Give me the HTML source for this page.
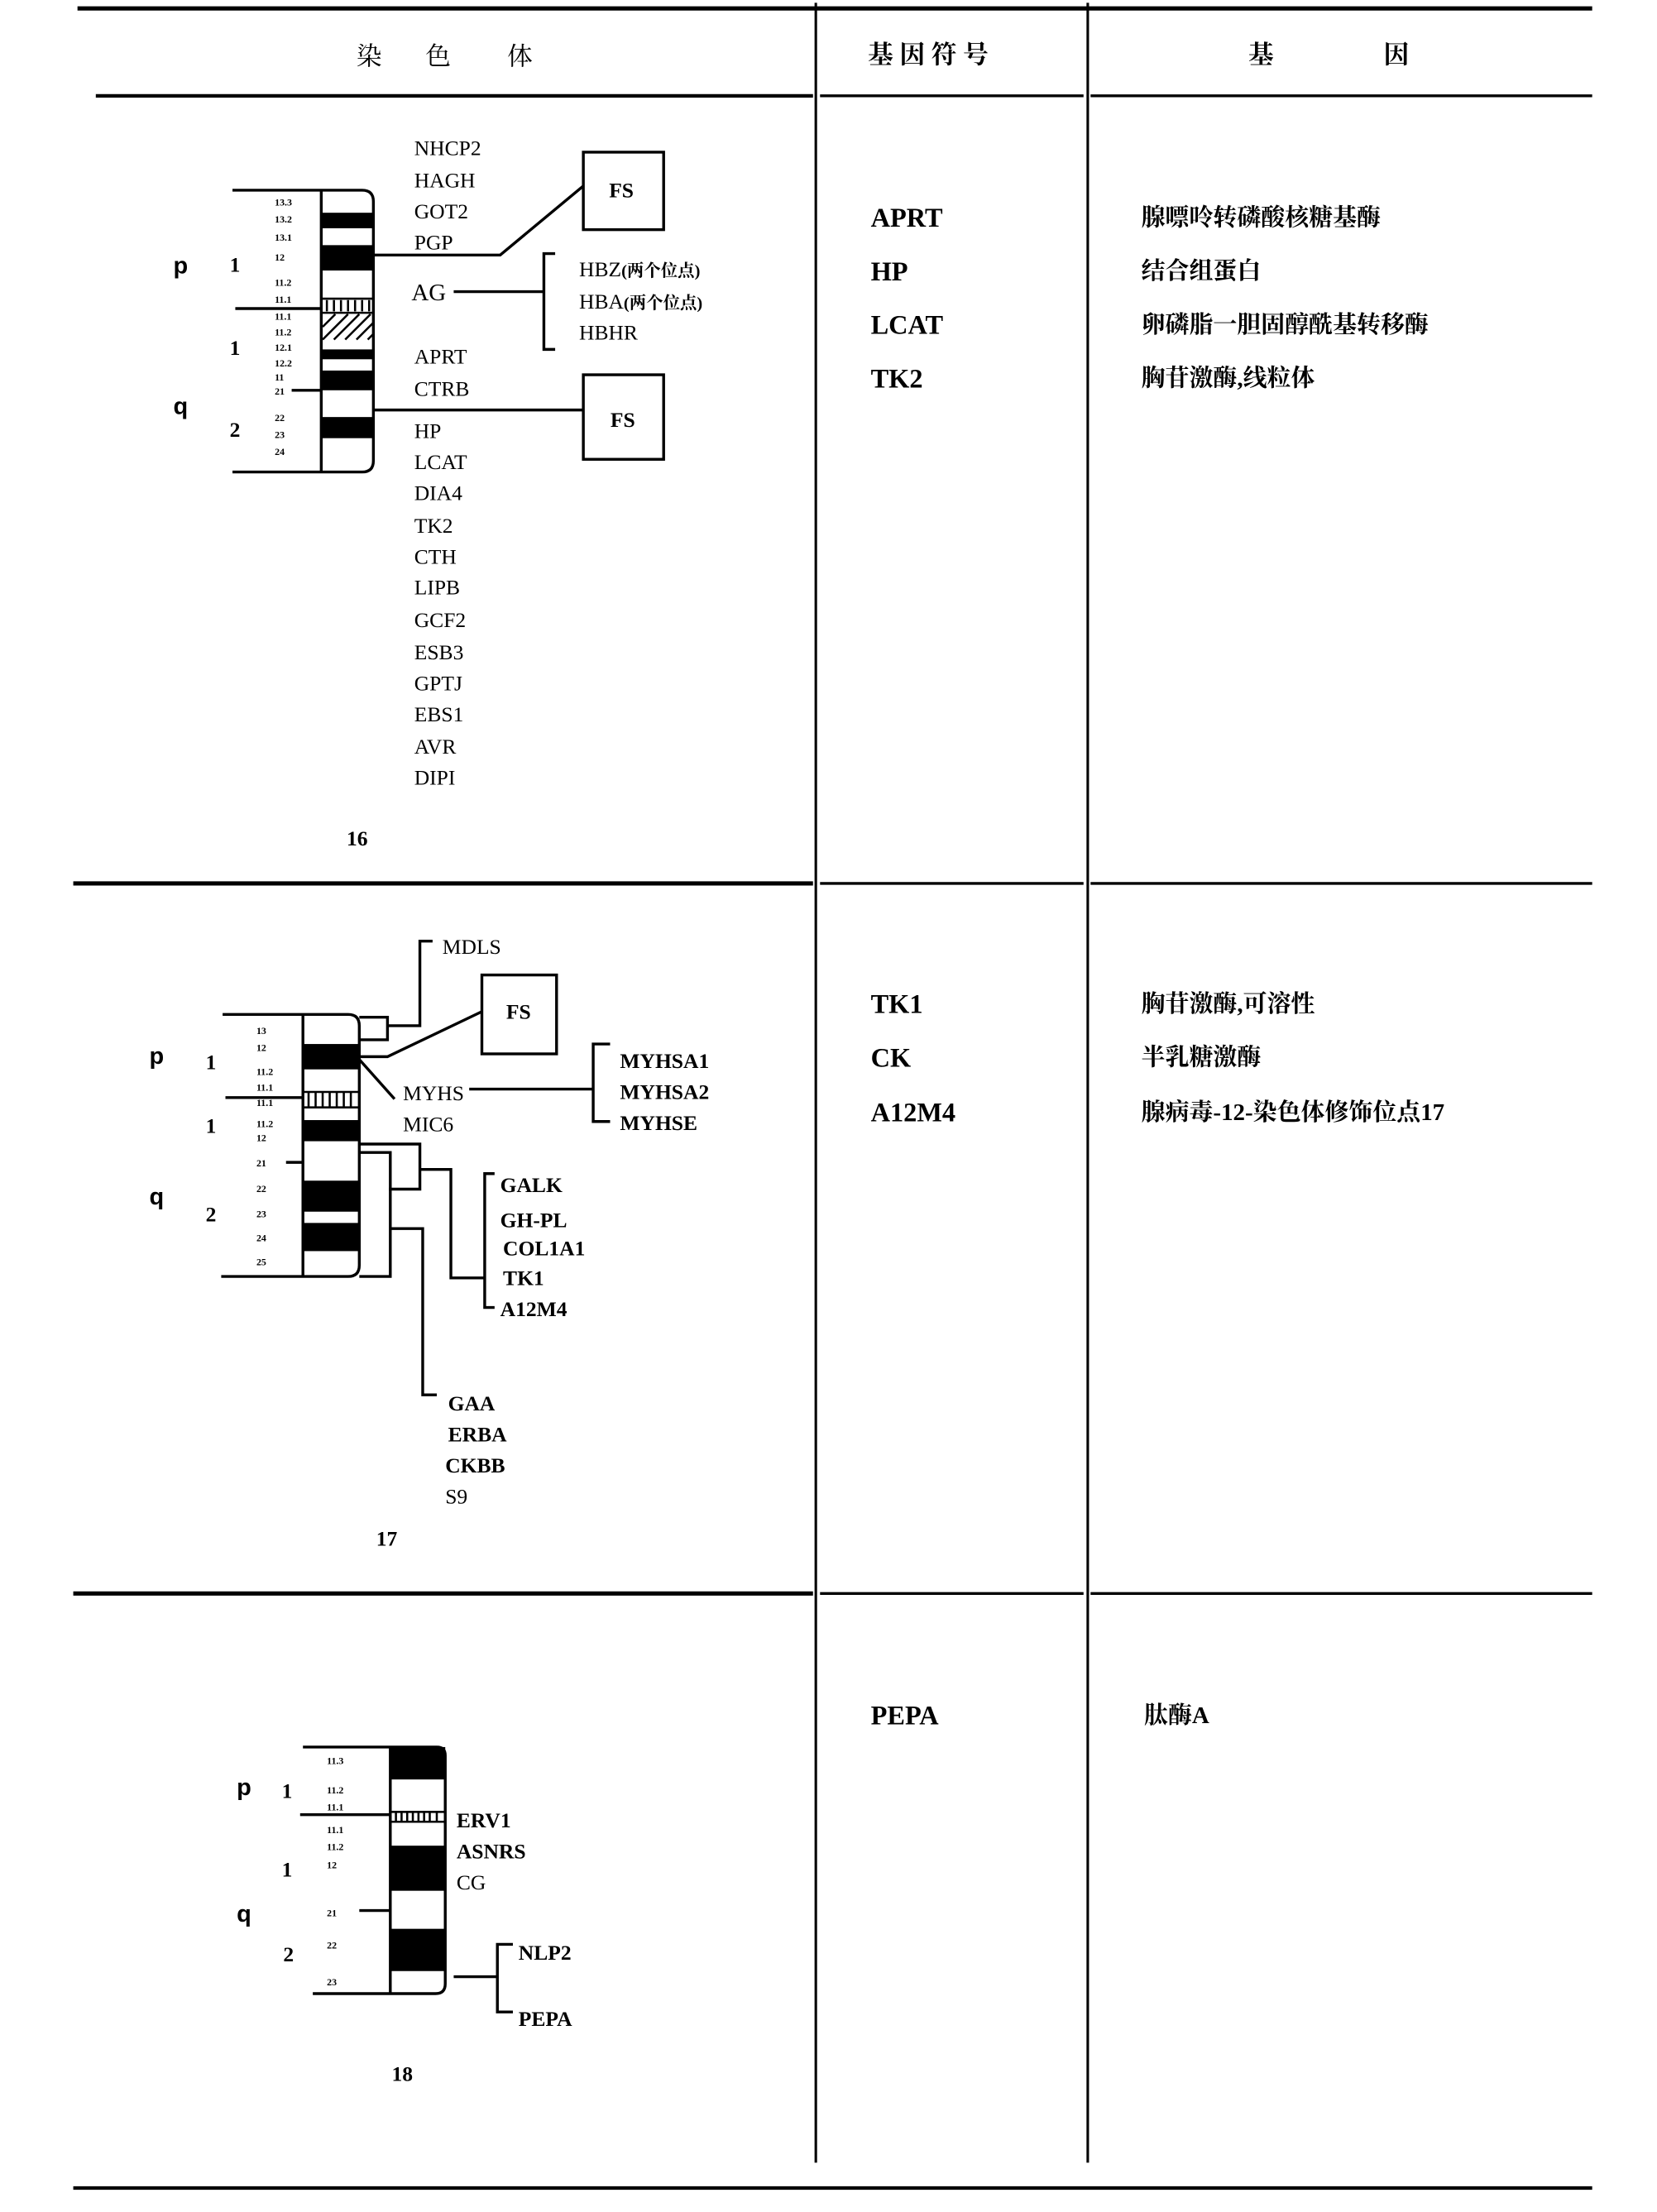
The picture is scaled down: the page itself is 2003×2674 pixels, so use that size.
<!DOCTYPE html>
<html><head><meta charset="utf-8"><style>
html,body{margin:0;padding:0;background:#fff;}
svg{display:block;}
text{font-family:"Liberation Serif","Noto Serif CJK SC",serif;fill:#000;}
.g{font-size:15px;}
.gb{font-size:15px;font-weight:bold;}
.b{font-size:7px;font-weight:bold;}
.c2{font-size:19px;font-weight:bold;}
.c3{font-size:17px;font-family:"Liberation Serif","Noto Serif CJK SC",serif;font-weight:bold;}
.pq{font-size:17px;font-weight:bold;font-family:"Liberation Sans",sans-serif;}
.n{font-size:15px;font-weight:bold;}
</style></head><body>
<svg width="2003" height="2674" viewBox="0 0 1176 1570" preserveAspectRatio="none" xmlns="http://www.w3.org/2000/svg">
<g stroke="#000" fill="none">
<line x1="55" y1="6" x2="1130" y2="6" stroke-width="3"/>
<line x1="68" y1="68" x2="577" y2="68" stroke-width="2.5"/>
<line x1="582" y1="68" x2="769" y2="68" stroke-width="2"/>
<line x1="774" y1="68" x2="1130" y2="68" stroke-width="2"/>
<line x1="579" y1="2" x2="579" y2="1535" stroke-width="1.8"/>
<line x1="772" y1="2" x2="772" y2="1535" stroke-width="1.8"/>
<line x1="52" y1="627" x2="577" y2="627" stroke-width="3"/>
<line x1="582" y1="627" x2="769" y2="627" stroke-width="2"/>
<line x1="774" y1="627" x2="1130" y2="627" stroke-width="2"/>
<line x1="52" y1="1131" x2="577" y2="1131" stroke-width="3"/>
<line x1="582" y1="1131" x2="769" y2="1131" stroke-width="2"/>
<line x1="774" y1="1131" x2="1130" y2="1131" stroke-width="2"/>
<line x1="52" y1="1553" x2="1130" y2="1553" stroke-width="2.5"/>
</g>
<text x="253" y="46" font-size="18">染</text><text x="302" y="46" font-size="18">色</text><text x="360" y="46" font-size="18">体</text>
<text x="616" y="45" font-size="18" font-weight="bold">基 因 符 号</text>
<text x="886" y="45" font-size="18" font-weight="bold">基</text><text x="982" y="45" font-size="18" font-weight="bold">因</text>

<!-- Chromosome 16 -->
<g fill="#000">
<rect x="228" y="151" width="37" height="11"/><rect x="228" y="174" width="37" height="18"/>
<rect x="228" y="248" width="37" height="7"/><rect x="228" y="263" width="37" height="14"/>
<rect x="228" y="296" width="37" height="15"/>
</g>
<g stroke="#000" stroke-width="1.5">
<line x1="232" y1="213" x2="232" y2="221"/><line x1="237" y1="213" x2="237" y2="221"/><line x1="242" y1="213" x2="242" y2="221"/><line x1="247" y1="213" x2="247" y2="221"/><line x1="252" y1="213" x2="252" y2="221"/><line x1="257" y1="213" x2="257" y2="221"/><line x1="262" y1="213" x2="262" y2="221"/>
<line x1="228" y1="212" x2="265" y2="212"/><line x1="228" y1="222" x2="265" y2="222"/>
<line x1="229" y1="232" x2="238" y2="223"/><line x1="229" y1="241" x2="247" y2="223"/><line x1="237" y1="241" x2="255" y2="223"/><line x1="245" y1="241" x2="263" y2="223"/><line x1="253" y1="241" x2="265" y2="229"/><line x1="261" y1="241" x2="265" y2="237"/>
</g>
<path d="M165 135 H257 Q265 135 265 143 V327 Q265 335 257 335 H165 M228 135 V335" stroke="#000" stroke-width="2" fill="none"/>
<g stroke="#000" stroke-width="2" fill="none">
<line x1="167" y1="219" x2="228" y2="219"/><line x1="207" y1="277" x2="228" y2="277"/>
<polyline points="265,181 355,181 414,132"/>
<line x1="265" y1="291" x2="414" y2="291"/>
<rect x="414" y="108" width="57" height="55"/>
<rect x="414" y="266" width="57" height="60"/>
<line x1="322" y1="207" x2="386" y2="207"/>
<polyline points="394,180 386,180 386,248 394,248"/>
</g>
<text x="441" y="140" class="gb" text-anchor="middle">FS</text>
<text x="442" y="303" class="gb" text-anchor="middle">FS</text>
<text x="123" y="194" class="pq">p</text><text x="163" y="193" class="n">1</text><text x="163" y="252" class="n">1</text>
<text x="123" y="294" class="pq">q</text><text x="163" y="310" class="n">2</text>
<g class="b">
<text x="195" y="146">13.3</text><text x="195" y="158">13.2</text><text x="195" y="171">13.1</text><text x="195" y="185">12</text>
<text x="195" y="203">11.2</text><text x="195" y="215">11.1</text><text x="195" y="227">11.1</text><text x="195" y="238">11.2</text>
<text x="195" y="249">12.1</text><text x="195" y="260">12.2</text><text x="195" y="270">11</text><text x="195" y="280">21</text>
<text x="195" y="299">22</text><text x="195" y="311">23</text><text x="195" y="323">24</text>
</g>
<g class="g">
<text x="294" y="110">NHCP2</text><text x="294" y="133">HAGH</text><text x="294" y="155">GOT2</text><text x="294" y="177">PGP</text>
<text x="292" y="213" font-size="17">AG</text>
<text x="294" y="258">APRT</text><text x="294" y="281">CTRB</text><text x="294" y="311">HP</text><text x="294" y="333">LCAT</text>
<text x="294" y="355">DIA4</text><text x="294" y="378">TK2</text><text x="294" y="400">CTH</text><text x="294" y="422">LIPB</text>
<text x="294" y="445">GCF2</text><text x="294" y="468">ESB3</text><text x="294" y="490">GPTJ</text><text x="294" y="512">EBS1</text>
<text x="294" y="535">AVR</text><text x="294" y="557">DIPI</text>
</g>
<text x="411" y="196" class="g">HBZ<tspan font-size="12" font-weight="bold">(两个位点)</tspan></text>
<text x="411" y="219" class="g">HBA<tspan font-size="12" font-weight="bold">(两个位点)</tspan></text>
<text x="411" y="241" class="g">HBHR</text>
<text x="246" y="600" class="n" font-size="18">16</text>

<text x="618" y="161" class="c2">APRT</text><text x="618" y="199" class="c2">HP</text><text x="618" y="237" class="c2">LCAT</text><text x="618" y="275" class="c2">TK2</text>
<text x="810" y="160" class="c3">腺嘌呤转磷酸核糖基酶</text><text x="810" y="198" class="c3">结合组蛋白</text><text x="810" y="236" class="c3">卵磷脂一胆固醇酰基转移酶</text><text x="810" y="274" class="c3">胸苷激酶,线粒体</text>

<!-- Chromosome 17 -->
<g fill="#000">
<rect x="215" y="741" width="40" height="18"/><rect x="215" y="795" width="40" height="15"/>
<rect x="215" y="838" width="40" height="22"/><rect x="215" y="868" width="40" height="20"/>
</g>
<g stroke="#000" stroke-width="1.5">
<line x1="215" y1="775" x2="255" y2="775"/><line x1="215" y1="786" x2="255" y2="786"/>
<line x1="219" y1="775" x2="219" y2="786"/><line x1="224" y1="775" x2="224" y2="786"/><line x1="229" y1="775" x2="229" y2="786"/><line x1="234" y1="775" x2="234" y2="786"/><line x1="239" y1="775" x2="239" y2="786"/><line x1="244" y1="775" x2="244" y2="786"/><line x1="249" y1="775" x2="249" y2="786"/>
</g>
<path d="M158 720 H247 Q255 720 255 728 V898 Q255 906 247 906 H157 M215 720 V906" stroke="#000" stroke-width="2" fill="none"/>
<g stroke="#000" stroke-width="2" fill="none">
<line x1="160" y1="779" x2="215" y2="779"/><line x1="203" y1="825" x2="215" y2="825"/>
<polyline points="255,722 275,722 275,738 255,738"/>
<polyline points="275,728 298,728 298,668 307,668"/>
<rect x="342" y="692" width="53" height="56"/>
<polyline points="255,750 275,750 342,718"/>
<line x1="255" y1="752" x2="280" y2="780"/>
<line x1="333" y1="773" x2="421" y2="773"/>
<polyline points="433,741 421,741 421,796 433,796"/>
<polyline points="255,812 298,812 298,844 276,844"/>
<polyline points="298,830 320,830 320,907 344,907"/>
<polyline points="351,833 344,833 344,928 351,928"/>
<polyline points="255,818 277,818 277,906 255,906"/>
<polyline points="277,872 300,872 300,990 310,990"/>
</g>
<text x="368" y="723" class="gb" text-anchor="middle">FS</text>
<text x="314" y="677" class="g">MDLS</text>
<text x="286" y="781" class="g" font-size="16">MYHS</text><text x="286" y="803" class="g">MIC6</text>
<text x="440" y="758" class="gb">MYHSA1</text><text x="440" y="780" class="gb">MYHSA2</text><text x="440" y="802" class="gb">MYHSE</text>
<text x="355" y="846" class="gb">GALK</text><text x="355" y="871" class="gb" font-family="Liberation Sans">GH-PL</text><text x="357" y="891" class="gb">COL1A1</text><text x="357" y="912" class="gb">TK1</text><text x="355" y="934" class="gb">A12M4</text>
<text x="318" y="1001" class="gb">GAA</text><text x="318" y="1023" class="gb">ERBA</text><text x="316" y="1045" class="gb">CKBB</text><text x="316" y="1067" class="g">S9</text>
<text x="267" y="1097" class="n" font-size="18">17</text>
<text x="106" y="755" class="pq">p</text><text x="146" y="759" class="n">1</text><text x="146" y="804" class="n">1</text>
<text x="106" y="855" class="pq">q</text><text x="146" y="867" class="n">2</text>
<g class="b">
<text x="182" y="734">13</text><text x="182" y="746">12</text><text x="182" y="763">11.2</text><text x="182" y="774">11.1</text>
<text x="182" y="785">11.1</text><text x="182" y="800">11.2</text><text x="182" y="810">12</text><text x="182" y="828">21</text>
<text x="182" y="846">22</text><text x="182" y="864">23</text><text x="182" y="881">24</text><text x="182" y="898">25</text>
</g>
<text x="618" y="719" class="c2">TK1</text><text x="618" y="757" class="c2">CK</text><text x="618" y="796" class="c2">A12M4</text>
<text x="810" y="718" class="c3">胸苷激酶,可溶性</text><text x="810" y="756" class="c3">半乳糖激酶</text><text x="810" y="795" class="c3">腺病毒-12-染色体修饰位点17</text>

<!-- Chromosome 18 -->
<g fill="#000">
<rect x="277" y="1240" width="39" height="23"/><rect x="277" y="1310" width="39" height="32"/><rect x="277" y="1369" width="39" height="30"/>
</g>
<g stroke="#000" stroke-width="1.5">
<line x1="277" y1="1286" x2="316" y2="1286"/><line x1="277" y1="1293" x2="316" y2="1293"/>
<line x1="281" y1="1286" x2="281" y2="1293"/><line x1="285" y1="1286" x2="285" y2="1293"/><line x1="289" y1="1286" x2="289" y2="1293"/><line x1="293" y1="1286" x2="293" y2="1293"/><line x1="297" y1="1286" x2="297" y2="1293"/><line x1="301" y1="1286" x2="301" y2="1293"/><line x1="305" y1="1286" x2="305" y2="1293"/><line x1="310" y1="1286" x2="310" y2="1293"/>
</g>
<path d="M215 1240 H310 Q316 1240 316 1246 V1408 Q316 1415 309 1415 H222 M277 1240 V1415" stroke="#000" stroke-width="2" fill="none"/>
<g stroke="#000" stroke-width="2" fill="none">
<line x1="213" y1="1288" x2="277" y2="1288"/><line x1="255" y1="1356" x2="277" y2="1356"/>
<line x1="322" y1="1403" x2="353" y2="1403"/>
<polyline points="364,1380 353,1380 353,1428 364,1428"/>
</g>
<text x="324" y="1297" class="gb">ERV1</text><text x="324" y="1319" class="gb">ASNRS</text><text x="324" y="1341" class="g">CG</text>
<text x="368" y="1391" class="gb">NLP2</text><text x="368" y="1438" class="gb">PEPA</text>
<text x="278" y="1477" class="n" font-size="18">18</text>
<text x="168" y="1274" class="pq">p</text><text x="200" y="1276" class="n">1</text><text x="200" y="1332" class="n">1</text>
<text x="168" y="1364" class="pq">q</text><text x="201" y="1392" class="n">2</text>
<g class="b">
<text x="232" y="1252">11.3</text><text x="232" y="1273">11.2</text><text x="232" y="1285">11.1</text><text x="232" y="1301">11.1</text>
<text x="232" y="1313">11.2</text><text x="232" y="1326">12</text><text x="232" y="1360">21</text><text x="232" y="1383">22</text><text x="232" y="1409">23</text>
</g>
<text x="618" y="1224" class="c2">PEPA</text>
<text x="812" y="1223" class="c3">肽酶A</text>
</svg>
</body></html>
